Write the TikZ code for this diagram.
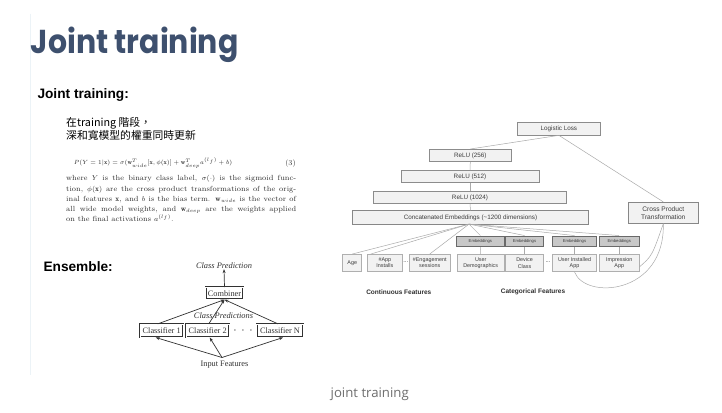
\documentclass[tikz,border=0pt]{standalone}
\usepackage{graphicx}
\usepackage{fontspec}
\newfontfamily\arial{Liberation Sans}
\newfontfamily\timesf{Liberation Serif}
\newfontfamily\cjk{Noto Sans CJK TC}
\newfontfamily\titlefont{Poppins}
\newfontfamily\capfont{Open Sans}
\usetikzlibrary{arrows.meta}
\definecolor{titleblue}{RGB}{62,80,110}
\definecolor{boxfill}{RGB}{242,242,242}
\definecolor{boxline}{RGB}{140,140,140}
\definecolor{embfill}{RGB}{200,200,200}
\definecolor{embline}{RGB}{105,105,105}
\definecolor{wdtext}{RGB}{60,60,60}
\definecolor{wline}{RGB}{170,170,170}
\definecolor{enscol}{RGB}{50,50,50}
\definecolor{papertext}{RGB}{45,45,45}
\tikzset{
  lbox/.style={draw=boxline, fill=boxfill, line width=0.6pt, inner sep=0pt, text=wdtext, font=\arial\fontsize{6.3}{7}\selectfont, align=center},
  ebox/.style={draw=embline, fill=embfill, line width=0.8pt, inner sep=0pt, text=wdtext, font=\arial\fontsize{4.2}{5}\selectfont, minimum height=10.7pt},
  fbox/.style={draw=boxline!70, fill=boxfill, line width=0.5pt, inner sep=0pt, text=wdtext, font=\arial\fontsize{5.4}{6.2}\selectfont, align=center, minimum height=17.4pt},
  wl/.style={draw=wline, line width=0.5pt},
  cbox/.style={draw=enscol, line width=0.6pt, inner sep=0pt, minimum height=13pt, font=\timesf\fontsize{8.3}{9}\selectfont, text=enscol, double=white, double distance=0.6pt},
  earrow/.style={draw=enscol, line width=0.7pt, -{Stealth[length=4pt,width=3pt]}},
  etext/.style={font=\timesf\fontsize{8.3}{9}\selectfont, text=enscol, inner sep=0pt},
  headtext/.style={inner sep=0pt, font=\arial\bfseries\fontsize{13.7}{15}\selectfont}
}
\begin{document}
\begin{tikzpicture}[x=1pt,y=-1pt]
\useasboundingbox (0,0) rectangle (722,412);
\fill[white] (0,0) rectangle (722,412);
% faint slide edge
\draw[color={rgb,255:red,236;green,243;blue,247}, line width=0.6pt] (30,14) -- (30,375);
% title
\node[anchor=base west, inner sep=0pt, text=titleblue] (title) at (30.7,53.3) {\resizebox{207.6pt}{26.5pt}{\titlefont\bfseries Joint training}};
\node[headtext, anchor=base west] (jt) at (37.3,98.3) {Joint training:};
\node[headtext, anchor=base west] (ensemble) at (43.3,271.7) {Ensemble:};
% chinese
\node[anchor=north west, inner sep=0pt, align=left, font=\cjk\fontsize{10.8}{13.2}\selectfont] (zh) at (66,117) {在training 階段，\\深和寬模型的權重同時更新};
% equation
\node[inner sep=0pt, text=papertext, font=\fontsize{6.2}{7}\selectfont] (eq) at (153,163) {$P(Y=1|\mathbf{x}) = \sigma(\mathbf{w}_{wide}^T[\mathbf{x},\phi(\mathbf{x})] + \mathbf{w}_{deep}^T a^{(l_f)} + b)$};
\node[inner sep=0pt, text=papertext, font=\fontsize{7.6}{9}\selectfont] (eqn) at (290.5,163.3) {(3)};
\node[anchor=north west, inner sep=0pt, text width=230pt, align=justify, text=papertext, font=\fontsize{7.4}{10.15}\selectfont] (para) at (66,175.5) {where $Y$ is the binary class label, $\sigma(\cdot)$ is the sigmoid func-\linebreak tion, $\phi(\mathbf{x})$ are the cross product transformations of the orig-\linebreak inal features $\mathbf{x}$, and $b$ is the bias term. $\mathbf{w}_{wide}$ is the vector of\linebreak all wide model weights, and $\mathbf{w}_{deep}$ are the weights applied\linebreak on the final activations $a^{(l_f)}$.};
% ensemble diagram
\node[etext, font=\timesf\itshape\fontsize{8.4}{9}\selectfont] (cp) at (224,266) {Class Prediction};
\node[cbox, minimum width=37.6pt, minimum height=12pt] (comb) at (224.5,293.3) {Combiner};
\node[cbox, minimum width=43.3pt] (c1) at (161.7,330.7) {Classifier 1};
\node[cbox, minimum width=43.3pt] (c2) at (207.7,330.7) {Classifier 2};
\node[cbox, minimum width=46.6pt] (cn) at (280,330.7) {Classifier N};
\node[etext, font=\fontsize{12}{12}\selectfont] (dots) at (243,330.5) {$\cdot\hspace{2pt}\cdot\hspace{2pt}\cdot$};
\node[etext] (inp) at (224.5,365) {Input Features};
\coordinate (inpt) at (222,357.5);
\draw[earrow] (comb.north) -- (cp.south);
\draw[earrow] ([xshift=-4pt]c1.north) -- (comb.south);
\draw[earrow] ([xshift=1pt]c2.north) -- (comb.south);
\draw[earrow] ([xshift=-2pt]cn.north) -- (comb.south);
\node[etext, font=\timesf\itshape\fontsize{8.4}{9}\selectfont] (cps) at (223.5,315.7) {Class Predictions};
\draw[earrow] (inpt) -- ([xshift=-6pt]c1.south);
\draw[earrow] (inpt) -- ([xshift=2pt]c2.south);
\draw[earrow] (inpt) -- ([xshift=3pt]cn.south);
% wide & deep diagram
\node[lbox, minimum width=82.3pt, minimum height=12.3pt] (loss) at (558.9,128.9) {Logistic Loss};
\node[lbox, minimum width=82.7pt, minimum height=12.4pt] (r256) at (470.3,155.5) {ReLU (256)};
\node[lbox, minimum width=138pt, minimum height=12pt] (r512) at (470,176.7) {ReLU (512)};
\node[lbox, minimum width=193.4pt, minimum height=12pt] (r1024) at (470,197.7) {ReLU (1024)};
\node[lbox, minimum width=235.6pt, minimum height=13.3pt, line width=0.8pt, draw=embline!80] (concat) at (470.5,217.4) {Concatenated Embeddings (\textasciitilde1200 dimensions)};
\node[lbox, minimum width=70pt, minimum height=21pt, line width=0.8pt, draw=embline!80, font=\arial\fontsize{6.6}{8}\selectfont] (cross) at (663.3,212.8) {Cross Product\\Transformation};
\node[ebox, minimum width=47.3pt] (e1) at (480.4,241.3) {Embeddings};
\node[ebox, minimum width=37.6pt] (e2) at (524.5,241.3) {Embeddings};
\node[ebox, minimum width=44.4pt] (e3) at (574.5,241.3) {Embeddings};
\node[ebox, minimum width=39.7pt] (e4) at (619.2,241.3) {Embeddings};
\node[fbox, minimum width=19pt] (age) at (352.2,263) {Age};
\node[fbox, minimum width=35pt] (app) at (384.8,263) {\#App\\Installs};
\node[fbox, minimum width=40.7pt] (eng) at (429.7,263) {\#Engagement\\sessions};
\node[fbox, minimum width=46.7pt] (ud) at (480.7,263) {User\\Demographics};
\node[fbox, minimum width=37.6pt] (dc) at (524.5,263) {Device\\Class};
\node[fbox, minimum width=44.4pt] (uia) at (574.5,263) {User Installed\\App};
\node[fbox, minimum width=39.7pt] (ia) at (619.2,263) {Impression\\App};
\node[inner sep=0pt, text=wdtext, font=\arial\fontsize{6}{7}\selectfont] (d1) at (405.8,262.5) {...};
\node[inner sep=0pt, text=wdtext, font=\arial\fontsize{6}{7}\selectfont] (d2) at (548,262.5) {...};
\node[inner sep=0pt, text=wdtext!80!black, font=\arial\bfseries\fontsize{6.5}{7}\selectfont] (cont) at (398.8,291.7) {Continuous Features};
\node[inner sep=0pt, text=wdtext!80!black, font=\arial\bfseries\fontsize{6.5}{7}\selectfont] (cat) at (533,291.7) {Categorical Features};
% connectors
\draw[wl] (loss.south) -- (r256.north);
\draw[wl] (loss.south) -- (cross.north);
\draw[wl] (r256.south) -- (r512.north);
\draw[wl] (r512.south) -- (r1024.north);
\draw[wl] (r1024.south) -- (concat.north);
\coordinate (cb) at (469,224.1);
\draw[wl] (cb) -- (age.north);
\draw[wl] (cb) -- ([xshift=-14pt]app.north);
\draw[wl] (cb) -- (eng.north);
\draw[wl] (cb) -- (e1.north);
\draw[wl] (cb) -- (e2.north);
\draw[wl] (cb) -- (e3.north);
\draw[wl] (cb) -- (e4.north);
\draw[wl] (e1.south) -- (ud.north);
\draw[wl] (e2.south) -- (dc.north);
\draw[wl] (e3.south) -- (uia.north);
\draw[wl] (e4.south) -- (ia.north);
\draw[wl] (uia.south) .. controls (585,300) and (665,295) .. (cross.south);
\draw[wl] ([yshift=-4pt]ia.east) .. controls (652,256) .. (cross.south);
% caption
\node[inner sep=0pt, text={rgb,255:red,110;green,110;blue,110}, font=\capfont\fontsize{13.2}{15}\selectfont] (cap) at (369.7,394.5) {joint training};
\end{tikzpicture}
\end{document}
